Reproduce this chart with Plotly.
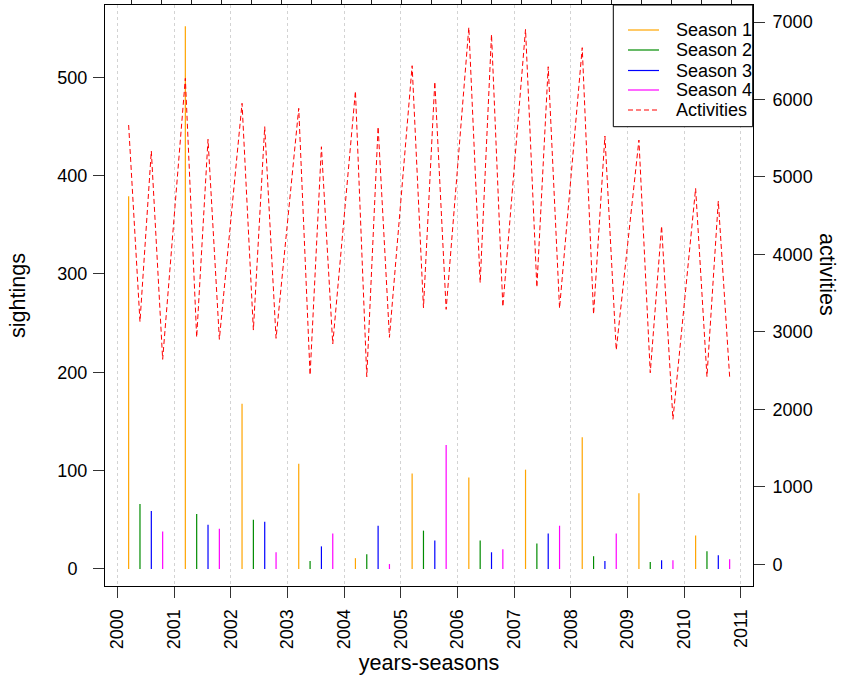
import plotly.graph_objects as go

# ---------------- data ----------------
years = list(range(2000, 2011))
season_names = ["Season 1", "Season 2", "Season 3", "Season 4"]
season_offsets = [0.2, 0.4, 0.6, 0.8]
season_colors = ["#FFA500", "#008B00", "#0000FF", "#FF00FF"]

season1 = [379, 552, 168, 107, 11, 97, 93, 101, 134, 77, 34]
season2 = [66, 56, 50, 8, 15, 39, 29, 26, 13, 7, 18]
season3 = [59, 45, 48, 23, 44, 29, 17, 36, 8, 9, 14]
season4 = [38, 41, 17, 36, 5, 126, 20, 44, 36, 9, 10]

activities = [
    5671, 3132, 5335, 2646,
    6273, 2930, 5486, 2904,
    5951, 3024, 5649, 2917,
    5886, 2443, 5390, 2844,
    6109, 2422, 5649, 2930,
    6436, 3312, 6230, 3291,
    6932, 3635, 6841, 3325,
    6906, 3576, 6423, 3304,
    6669, 3227, 5529, 2766,
    5477, 2473, 4367, 1872,
    4853, 2422, 4690, 2422,
]

year_ticks = list(range(2000, 2012))
left_ticks = [0, 100, 200, 300, 400, 500]
left_ticktext = ["0\u00a0\u00a0", "100", "200", "300", "400", "500"]
right_ticks = [0, 1000, 2000, 3000, 4000, 5000, 6000, 7000]

legend_names = season_names + ["Activities"]
legend_colors = season_colors + ["red"]
legend_dashes = ["solid"] * 4 + ["dash"]

FONT = "Liberation Sans, Arial, Helvetica, sans-serif"

# ---------------- geometry helpers (plot area in px) ----------------
W, H = 843, 676
ML, MR, MT, MB = 105, 90, 5, 90
PW, PH = W - ML - MR, H - MT - MB


def px_x(p):
    return (p - ML) / PW


def px_y(p):
    return (H - MB - p) / PH


# ---------------- figure ----------------
fig = go.Figure()

for name, off, vals, col in zip(season_names, season_offsets,
                                [season1, season2, season3, season4],
                                season_colors):
    xs, ys = [], []
    for yr, v in zip(years, vals):
        xs += [yr + off, yr + off, None]
        ys += [0, v, None]
    fig.add_trace(go.Scatter(x=xs, y=ys, mode="lines", name=name,
                             line=dict(color=col, width=1.2),
                             hoverinfo="skip", showlegend=False))

act_x = [yr + off for yr in years for off in season_offsets]
fig.add_trace(go.Scatter(x=act_x, y=activities, yaxis="y2", mode="lines",
                         name="Activities", showlegend=False,
                         line=dict(color="red", width=1, dash="5px,3px")))

# invisible helper trace so the top (cropped) tick strip is drawn
fig.add_trace(go.Scatter(x=[2005], y=[0], xaxis="x2", yaxis="y",
                         mode="markers", marker=dict(opacity=0),
                         showlegend=False, hoverinfo="skip"))

xr = [1999.783, 2011.212]

# ---------------- legend (drawn as layout shapes + text) ----------------
shapes = [dict(type="rect", xref="paper", yref="paper",
               x0=px_x(613.3), x1=px_x(752.7), y0=px_y(126.7), y1=px_y(5),
               line=dict(color="black", width=1), fillcolor="white",
               layer="above")]
annotations = []
row_y = [30, 50, 70.5, 90, 110]
for nm, col, dsh, ry in zip(legend_names, legend_colors, legend_dashes, row_y):
    shapes.append(dict(type="line", xref="paper", yref="paper",
                       x0=px_x(628), x1=px_x(659), y0=px_y(ry), y1=px_y(ry),
                       line=dict(color=col, width=1.2,
                                 dash="5px,3px" if dsh == "dash" else "solid"),
                       layer="above"))
    annotations.append(dict(text=nm, xref="paper", yref="paper",
                            x=px_x(674), y=px_y(ry), xanchor="left",
                            yanchor="middle", showarrow=False,
                            font=dict(size=18, color="black")))

annotations.append(dict(
    text="activities", xref="paper", yref="paper",
    x=px_x(828), y=px_y(274),
    textangle=90, showarrow=False, font=dict(size=21.6),
    xanchor="center", yanchor="middle",
))

fig.update_layout(
    width=W, height=H,
    margin=dict(l=ML, r=MR, t=MT, b=MB, autoexpand=False),
    paper_bgcolor="white", plot_bgcolor="white",
    font=dict(family=FONT, size=18, color="black"),
    showlegend=False,
    xaxis=dict(
        range=xr, tickmode="array", tickvals=year_ticks,
        ticktext=[str(t) for t in year_ticks], tickangle=-90,
        ticks="outside", ticklen=11, tickcolor="#333", tickwidth=1,
        ticklabelstandoff=4, automargin=False,
        showgrid=True, gridcolor="#D3D3D3", griddash="dot", gridwidth=1,
        zeroline=False, showline=True, linecolor="black", linewidth=1,
        mirror=True,
        title=dict(text="years-seasons", font=dict(size=21.6), standoff=6),
    ),
    xaxis2=dict(
        range=xr, overlaying="x", side="top", anchor="y", tickmode="linear",
        tick0=2000.25, dtick=0.5295, ticks="outside", ticklen=5,
        tickwidth=1, tickcolor="#222", showticklabels=False,
        automargin=False,
        showgrid=False, zeroline=False, showline=False, visible=True,
    ),
    yaxis=dict(
        range=[-17.3, 573.5], tickmode="array", tickvals=left_ticks,
        ticktext=left_ticktext, ticks="outside", ticklen=11,
        tickcolor="#333", ticklabelstandoff=2, automargin=False,
        showgrid=False, zeroline=False, showline=True, linecolor="black",
        linewidth=1, mirror=True,
        title=dict(text="sightings", font=dict(size=21.6), standoff=25),
    ),
    yaxis2=dict(
        range=[-280, 7220], overlaying="y", side="right", tickmode="array",
        tickvals=right_ticks, ticks="outside", ticklen=11, tickcolor="#333",
        ticklabelstandoff=4, showgrid=False, zeroline=False, showline=False,
        automargin=False,
    ),
    shapes=shapes,
    annotations=annotations,
)

fig.write_html("out.html")
